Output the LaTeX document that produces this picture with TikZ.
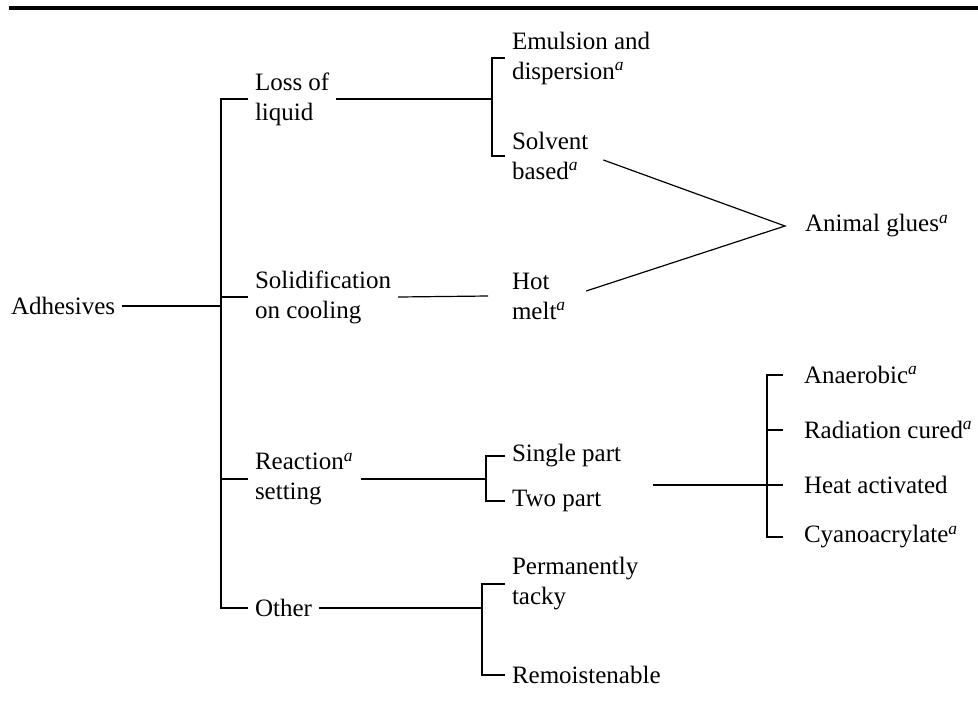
\documentclass[tikz,border=0pt]{standalone}
\usepackage{fontspec}
\setmainfont{Liberation Serif}
\usetikzlibrary{calc}
\newcommand{\fna}{\textsuperscript{\itshape a}}

\begin{document}
\begin{tikzpicture}[x=0.5pt, y=-0.5pt,
		every path/.style={line width=0.6pt},
		lbl/.style={anchor=west, inner sep=0pt, outer xsep=3.5pt, align=left,
			font=\fontsize{12.5}{15}\selectfont},
		toprule/.style={line width=2pt}]
		
		\useasboundingbox (0,0) rectangle (978,702);
		\draw[toprule] (9,8) -- (978,8);
		
		% ---------- Root and first split ----------
		\node[lbl] (adh)   at (4,306)   {Adhesives};
		\node[lbl] (loss)  at (248,99)  {Loss of\\liquid};
		\node[lbl] (solid) at (248,297) {Solidification\\on cooling};
		\node[lbl] (react) at (248,479) {Reaction\fna\\setting};
		\node[lbl] (other) at (248,608) {Other};
		
		\coordinate (spine) at ([xshift=-13.5pt]loss.west);
		\draw (loss.west) -- (spine) |- (other.west);
		\draw (adh.east) -- (adh.east -| spine);
		\draw (solid.west) -- (solid.west -| spine);
		\draw (react.west) -- (react.west -| spine);
		
		% ---------- Loss of liquid ----------
		\node[lbl] (emul) at (505,58)  {Emulsion and\\dispersion\fna};
		\node[lbl] (solv) at (505,156) {Solvent\\based\fna};
		\coordinate (bartwo) at ([xshift=-6.5pt]emul.west);
		\draw (emul.west) -- (bartwo) |- (solv.west);
		\draw (loss.east) -- (loss.east -| bartwo);
		
		% ---------- Solidification on cooling ----------
		\node[lbl] (hot) at (505,296) {Hot\\melt\fna};
		\draw (solid.east) -- ([xshift=-8.5pt]hot.west);
		
		% ---------- Animal glues (both routes) ----------
		\node[lbl] (animal) at (798,226) {Animal glues\fna};
		\coordinate (meet) at ([xshift=-6.5pt]animal.west);
		\draw ([xshift=4pt,yshift=-2pt]solv.east) -- (meet)
		-- ([xshift=6.5pt,yshift=2.5pt]hot.east);
		
		% ---------- Reaction setting ----------
		\node[lbl] (single) at (505,456) {Single part};
		\node[lbl] (two)    at (505,501) {Two part};
		\coordinate (barthree) at ([xshift=-9.5pt]single.west);
		\draw (single.west) -- (barthree) |- (two.west);
		\draw (react.east) -- (react.east -| barthree);
		
		\node[lbl] (anae) at (797,375) {Anaerobic\fna};
		\node[lbl] (rad)  at (797,430) {Radiation cured\fna};
		\node[lbl] (heat) at (797,485) {Heat activated};
		\node[lbl] (cyan) at (797,537) {Cyanoacrylate\fna};
		\coordinate (mix) at (653,485);
		\draw ([xshift=-7pt]anae.west) -- ++(-8pt,0) |- ([xshift=-7pt]cyan.west);
		\draw ([xshift=-7pt]rad.west) -- ++(-8pt,0);
		\draw (mix) -- ([xshift=-7pt]heat.west);
		
		% ---------- Other ----------
		\node[lbl] (perm) at (505,584) {Permanently\\tacky};
		\node[lbl] (remo) at (505,675) {Remoistenable};
		\coordinate (barfour) at ([xshift=-11.5pt]perm.west);
		\draw (perm.west) -- (barfour) |- (remo.west);
		\draw (other.east) -- (other.east -| barfour);
		
	\end{tikzpicture}
\end{document}
